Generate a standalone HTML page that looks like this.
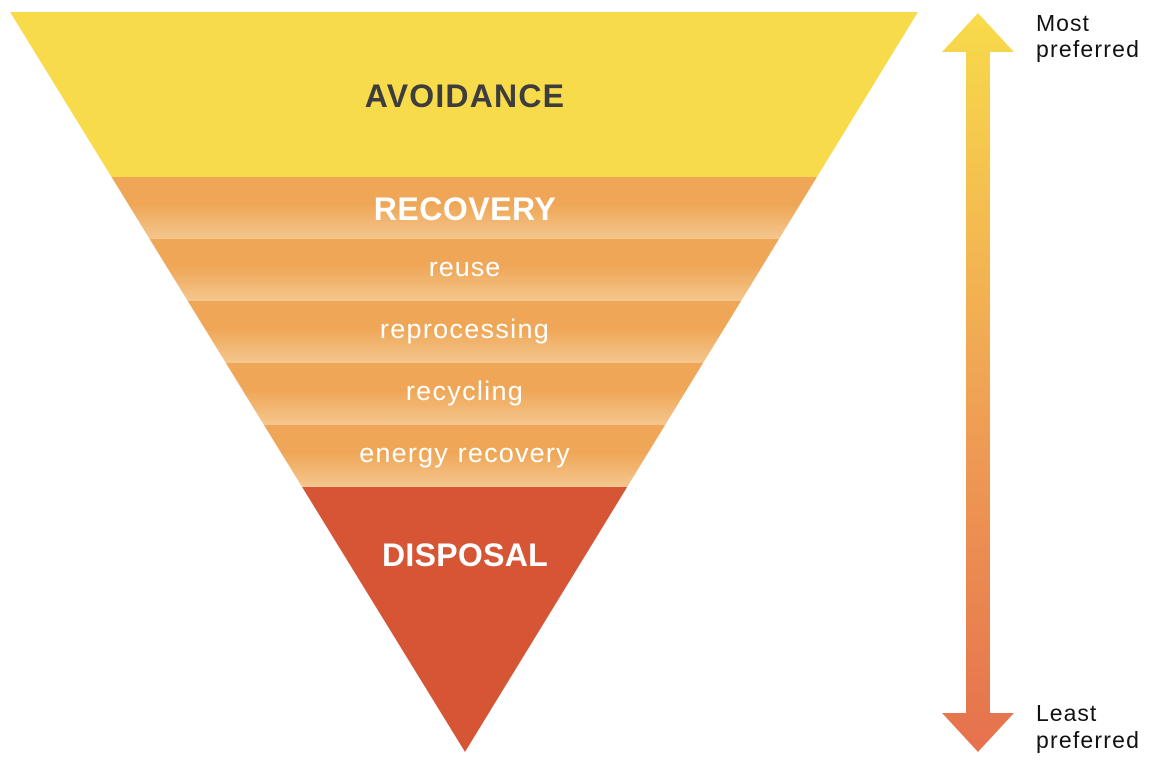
<!DOCTYPE html>
<html><head><style>
html,body{margin:0;padding:0;background:#fff;}
svg{display:block;}
text{font-family:"Liberation Sans",sans-serif;}
</style></head><body>
<svg width="1174" height="772" viewBox="0 0 1174 772" xmlns="http://www.w3.org/2000/svg">
<defs>
<clipPath id="tri"><polygon points="10,12 918,12 465,752"/></clipPath>
<linearGradient id="band" x1="0" y1="0" x2="0" y2="1">
<stop offset="0" stop-color="#EFA757"/>
<stop offset="0.45" stop-color="#EFA757"/>
<stop offset="1" stop-color="#F4C68E"/>
</linearGradient>
<linearGradient id="arr" x1="0" y1="0" x2="0" y2="1">
<stop offset="0" stop-color="#F8DB4A"/>
<stop offset="0.5" stop-color="#F0A455"/>
<stop offset="1" stop-color="#E5714D"/>
</linearGradient>
</defs>
<g clip-path="url(#tri)">
<rect x="0" y="0" width="930" height="177" fill="#F8DB4A"/>
<rect x="0" y="177" width="930" height="62" fill="url(#band)"/>
<rect x="0" y="239" width="930" height="62" fill="url(#band)"/>
<rect x="0" y="301" width="930" height="62" fill="url(#band)"/>
<rect x="0" y="363" width="930" height="62" fill="url(#band)"/>
<rect x="0" y="425" width="930" height="62" fill="url(#band)"/>
<rect x="0" y="487" width="930" height="290" fill="#D55535"/>
</g>
<text x="465" y="107" text-anchor="middle" font-size="32" font-weight="bold" letter-spacing="1.2" fill="#3d3d3d">AVOIDANCE</text>
<text x="465" y="220" text-anchor="middle" font-size="32" font-weight="bold" letter-spacing="0.5" fill="#fff">RECOVERY</text>
<text x="465" y="276" text-anchor="middle" font-size="27" letter-spacing="1" fill="#fff">reuse</text>
<text x="465" y="338" text-anchor="middle" font-size="27" letter-spacing="1.3" fill="#fff">reprocessing</text>
<text x="465" y="400" text-anchor="middle" font-size="27" letter-spacing="1.3" fill="#fff">recycling</text>
<text x="465" y="462" text-anchor="middle" font-size="27" letter-spacing="1.2" fill="#fff">energy recovery</text>
<text x="465" y="566" text-anchor="middle" font-size="32" font-weight="bold" letter-spacing="0.3" fill="#fff">DISPOSAL</text>
<polygon points="978,13 1014,52 990,52 990,713 1014,713 978,752 942,713 966,713 966,52 942,52" fill="url(#arr)"/>
<text x="1036" y="31" font-size="23" letter-spacing="1" fill="#111">Most</text>
<text x="1036" y="57" font-size="23" letter-spacing="1.2" fill="#111">preferred</text>
<text x="1036" y="721" font-size="23" letter-spacing="1" fill="#111">Least</text>
<text x="1036" y="748" font-size="23" letter-spacing="1.2" fill="#111">preferred</text>
</svg>
</body></html>
